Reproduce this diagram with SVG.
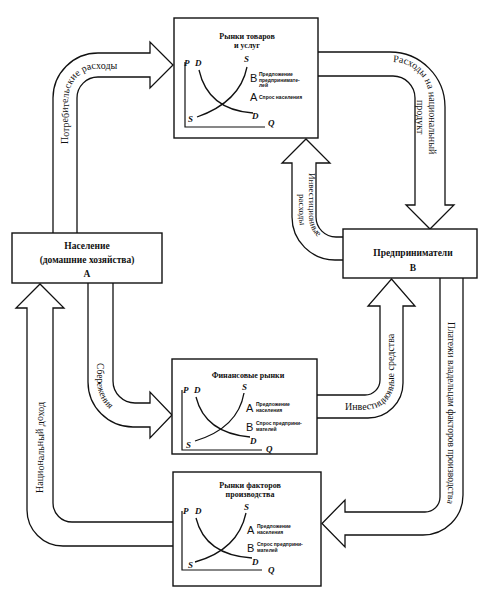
<svg xmlns="http://www.w3.org/2000/svg" width="497" height="600" viewBox="0 0 497 600">
<style>
.arrow{fill:#fff;stroke:#111;stroke-width:1.3;stroke-linejoin:miter}
.box{fill:#fff;stroke:#111;stroke-width:1.4}
.axis{fill:none;stroke:#111;stroke-width:1.2}
.curve{fill:none;stroke:#111;stroke-width:1.3}
.lbl{font-family:"Liberation Serif",serif;font-size:10px;fill:#111}
.title{font-family:"Liberation Serif",serif;font-size:8px;font-weight:bold;fill:#111;text-anchor:middle}
.node{font-family:"Liberation Serif",serif;font-size:9.5px;font-weight:bold;fill:#111;text-anchor:middle}
.ax{font-family:"Liberation Serif",serif;font-size:9px;font-style:italic;font-weight:bold;fill:#111}
.big{font-family:"Liberation Sans",sans-serif;font-size:11px;fill:#111}
.tiny{font-family:"Liberation Sans",sans-serif;font-size:5px;font-weight:bold;fill:#111}
</style>
<defs>
<path id="p1" d="M68.5,150 L68.5,98 A29.5,29.5 0 0 1 98,68.5 L145,68.5"/>
<path id="p2a" d="M330,62 L393,62 A36,36 0 0 1 429,98 L429,200"/>
<path id="p2b" d="M417,80 L417,200"/>
<path id="p3a" d="M309,165 L309,217 A27,27 0 0 0 336,244 L343,244"/>
<path id="p3b" d="M299,180 L299,217 A37,37 0 0 0 336,254"/>
<path id="p4" d="M97,330 L97,381 A37,37 0 0 0 134,418 L150,418"/>
<path id="p5" d="M43.5,500 L43.5,300"/>
<path id="p6" d="M330,409.5 L366,409.5 A28.5,28.5 0 0 0 394.5,381 L394.5,300"/>
<path id="p7" d="M448,290 L448,496 A24,24 0 0 1 424,520 L340,520"/>
</defs>
<g id="connectors">
<path class="arrow" d="M53,233 L53,98 A45,45 0 0 1 98,53 L150,53 L150,42 L173,65 L150,88 L150,77 L98,77 A21,21 0 0 0 77,98 L77,233"/>
<path class="arrow" d="M318,52 L390,52 A55,55 0 0 1 445,107 L445,205 L454,205 L430,229 L406,205 L415,205 L415,98 A22,22 0 0 0 393,76 L318,76"/>
<path class="arrow" d="M343,260 L335,260 A43,43 0 0 1 292,217 L292,163 L282,163 L306,139 L330,163 L316,163 L316,217 A20,20 0 0 0 336,237 L343,237"/>
<path class="arrow" d="M88,283 L88,382 A45,45 0 0 0 133,427 L150,427 L150,438 L172,415 L150,392 L150,403 L135,403 A22,22 0 0 1 113,381 L113,283"/>
<path class="arrow" d="M173,546 L63,546 A36,36 0 0 1 27,510 L27,308 L16,308 L40,284 L64,308 L53,308 L53,503 A19,19 0 0 0 72,522 L173,522"/>
<path class="arrow" d="M317,395 L365,395 A15,15 0 0 0 380,380 L380,306 L368,306 L391.5,279 L415,306 L403,306 L403,383 A35,35 0 0 1 368,418 L317,418"/>
<path class="arrow" d="M440,278 L440,497 A15,15 0 0 1 425,512 L345,512 L345,500 L322,523.5 L345,547 L345,535 L423,535 A40,40 0 0 0 463,495 L463,278"/>
<text class="lbl"><textPath href="#p1" startOffset="6">Потребительские расходы</textPath></text>
<text class="lbl"><textPath href="#p2a" startOffset="63">Расходы на национальный</textPath></text>
<text class="lbl"><textPath href="#p2b" startOffset="20">продукт</textPath></text>
<text class="lbl" style="font-size:9px"><textPath href="#p3a" startOffset="8">Инвестиционные</textPath></text>
<text class="lbl" style="font-size:9px"><textPath href="#p3b" startOffset="14">расходы</textPath></text>
<text class="lbl" style="font-size:9.5px"><textPath href="#p4" startOffset="33">Сбережения</textPath></text>
<text class="lbl"><textPath href="#p5" startOffset="7">Национальный доход</textPath></text>
<text class="lbl"><textPath href="#p6" startOffset="15">Инвестиционные средства</textPath></text>
<text class="lbl" style="font-size:9.5px"><textPath href="#p7" startOffset="32">Платежи владельцам факторов производства</textPath></text>
</g>
<g id="goods-market">
<rect class="box" x="174" y="18" width="144" height="120"/>
<text class="title" x="247" y="38.5">Рынки товаров</text>
<text class="title" x="247" y="47.5">и услуг</text>
<path class="axis" d="M185,62 L185,127 L265,127"/>
<path class="curve" d="M199,70 Q208,110 253,113"/>
<path class="curve" d="M197,117 Q240,102 247,67"/>
<text class="ax" x="184" y="66">P</text>
<text class="ax" x="195" y="66">D</text>
<text class="ax" x="244" y="62">S</text>
<text class="ax" x="188" y="122">S</text>
<text class="ax" x="252" y="119">D</text>
<text class="ax" x="268" y="126">Q</text>
<text class="big" x="250" y="82">B</text>
<text class="tiny" x="259" y="76">Предложение</text>
<text class="tiny" x="259" y="81.5">предпринимате-</text>
<text class="tiny" x="259" y="87">лей</text>
<text class="big" x="250" y="101">A</text>
<text class="tiny" x="259" y="99">Спрос населения</text>
</g>
<g id="households">
<rect class="box" x="12" y="233" width="150" height="50"/>
<text class="node" x="87" y="249">Население</text>
<text class="node" x="87" y="263">(домашние хозяйства)</text>
<text class="node" x="87" y="277">А</text>
</g>
<g id="firms">
<rect class="box" x="343" y="229" width="134" height="49"/>
<text class="node" x="413" y="256">Предприниматели</text>
<text class="node" x="413" y="271">В</text>
</g>
<g id="financial-market">
<rect class="box" x="172" y="359" width="145" height="95"/>
<text class="title" x="248" y="378">Финансовые рынки</text>
<path class="axis" d="M182,390 L182,450 L262,450"/>
<path class="curve" d="M196,397 Q205,433 250,437"/>
<path class="curve" d="M195,441 Q238,428 244,393"/>
<text class="ax" x="183" y="393">P</text>
<text class="ax" x="194" y="393">D</text>
<text class="ax" x="242" y="390">S</text>
<text class="ax" x="186" y="448">S</text>
<text class="ax" x="250" y="444">D</text>
<text class="ax" x="266" y="452">Q</text>
<text class="big" x="246" y="412">A</text>
<text class="tiny" x="256" y="406">Предложение</text>
<text class="tiny" x="256" y="412">населения</text>
<text class="big" x="246" y="431">B</text>
<text class="tiny" x="256" y="425">Спрос предприни-</text>
<text class="tiny" x="256" y="431">мателей</text>
</g>
<g id="factor-market">
<rect class="box" x="173" y="472" width="148" height="114"/>
<text class="title" x="250" y="488">Рынки факторов</text>
<text class="title" x="250" y="497">производства</text>
<path class="axis" d="M182,511 L182,570 L262,570"/>
<path class="curve" d="M196,518 Q205,555 252,558"/>
<path class="curve" d="M195,562 Q238,550 246,513"/>
<text class="ax" x="183" y="514">P</text>
<text class="ax" x="195" y="514">D</text>
<text class="ax" x="244" y="510">S</text>
<text class="ax" x="188" y="568">S</text>
<text class="ax" x="252" y="565">D</text>
<text class="ax" x="268" y="573">Q</text>
<text class="big" x="247" y="534">A</text>
<text class="tiny" x="257" y="528">Предложение</text>
<text class="tiny" x="257" y="534">населения</text>
<text class="big" x="247" y="552">B</text>
<text class="tiny" x="257" y="546">Спрос предприни-</text>
<text class="tiny" x="257" y="552">мателей</text>
</g>
</svg>
